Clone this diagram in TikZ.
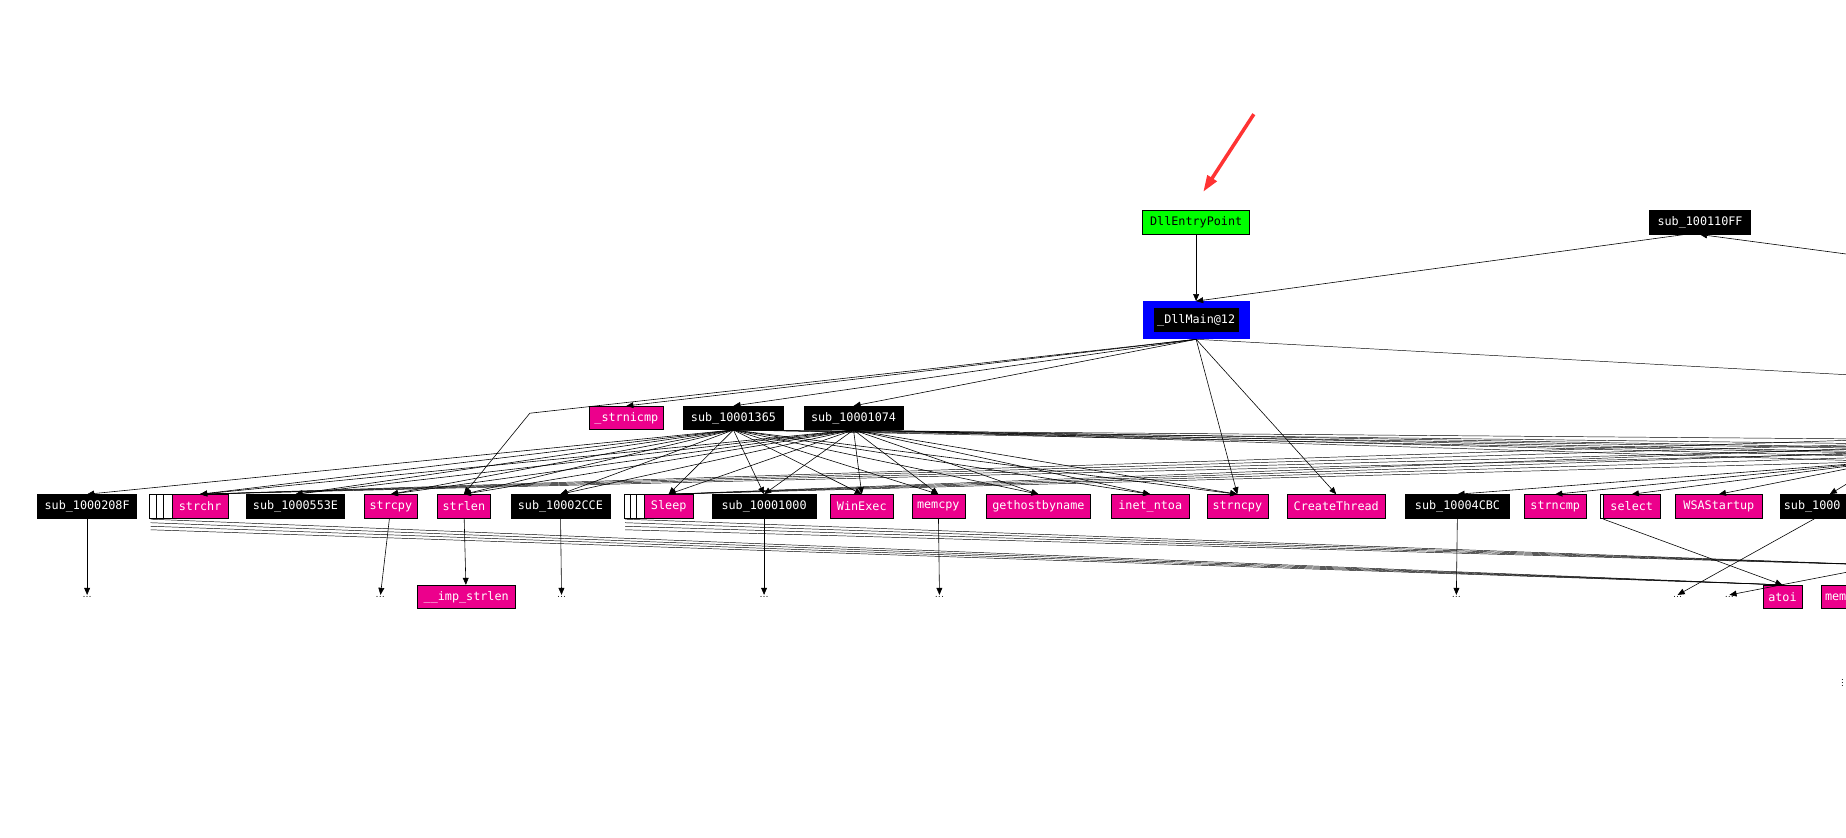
\documentclass[tikz,border=0pt]{standalone}
\usepackage{fontspec}
\setmonofont{DejaVu Sans Mono}
\usetikzlibrary{positioning, shapes, arrows.meta}

\begin{document}
\begin{tikzpicture}[
    x=1pt, y=-1pt,
    box/.style={rectangle, draw, minimum height=20pt, inner xsep=3pt, inner ysep=0pt,
        font=\ttfamily\fontsize{10}{10}\selectfont},
    fnode/.style={box, fill=magenta, text=white},
    subnode/.style={box, fill=black, text=white},
    ghost/.style={rectangle, draw, fill=white, minimum height=20pt, minimum width=20pt},
    dots/.style={font=\small, inner sep=1pt},
    myarrow/.style={-{Triangle[length=6pt, width=5pt]}, line width=0.5pt},
    plain/.style={line width=0.4pt}]

    \useasboundingbox (0,0) rectangle (1568,711);
    \clip (0,0) rectangle (1568,711);

    % top
    \node[box, fill=green, text=black, minimum width=91pt] (entry) at (1016,189) {DllEntryPoint};
    \node[rectangle, fill=blue, minimum width=91pt, minimum height=32pt] (dllmain) at (1016,272) {};
    \node[subnode, draw=none, font=\ttfamily\fontsize{10}{10}\selectfont] (dllmainlbl) at (1016,272) {\_DllMain@12};
    \node[subnode, minimum width=86pt] (sub110ff) at (1444,189) {sub\_100110FF};
    \draw[red!80, line width=3pt, -{Triangle[length=14pt, width=9pt]}] (1065,97) -- (1022,163);

    % second row
    \node[fnode, minimum width=63pt] (strnicmp) at (532,355) {\_strnicmp};
    \node[subnode, minimum width=85pt] (sub1365) at (623,355) {sub\_10001365};
    \node[subnode, minimum width=84pt] (sub1074) at (725,355) {sub\_10001074};

    % third row
    \node[subnode, minimum width=84pt] (sub208f) at (74,430) {sub\_1000208F};
    \foreach \gx in {131,137,143} \node[ghost] at (\gx+6,430) {};
    \node[fnode, minimum width=47pt] (strchr) at (170,430) {strchr};
    \node[subnode, minimum width=83pt] (sub553e) at (251,430) {sub\_1000553E};
    \node[fnode, minimum width=45pt] (strcpy) at (332,430) {strcpy};
    \node[fnode, minimum width=45pt] (strlen) at (394,430) {strlen};
    \node[subnode, minimum width=84pt] (sub2cce) at (476,430) {sub\_10002CCE};
    \foreach \gx in {534,539,544} \node[ghost] at (\gx+6,430) {};
    \node[fnode, minimum width=41pt] (sleep) at (568,430) {Sleep};
    \node[subnode, minimum width=88pt] (sub1000) at (649,430) {sub\_10001000};
    \node[fnode, minimum width=53pt] (winexec) at (732,430) {WinExec};
    \node[fnode, minimum width=45pt] (memcpy) at (797,430) {memcpy};
    \node[fnode, minimum width=88pt] (gethost) at (882,430) {gethostbyname};
    \node[fnode, minimum width=66pt] (inetntoa) at (977,430) {inet\_ntoa};
    \node[fnode, minimum width=52pt] (strncpy) at (1051,430) {strncpy};
    \node[fnode, minimum width=83pt] (createthread) at (1135,430) {CreateThread};
    \node[subnode, minimum width=88pt] (sub4cbc) at (1238,430) {sub\_10004CBC};
    \node[fnode, minimum width=52pt] (strncmp) at (1321,430) {strncmp};
    \node[ghost, minimum width=10pt] at (1364,430) {};
    \node[fnode, minimum width=48pt] (select) at (1386,430) {select};
    \node[fnode, minimum width=74pt] (wsastartup) at (1460,430) {WSAStartup};
    \node[subnode, minimum width=84pt, anchor=west, text width=78pt, align=left] (subcut) at (1512,430) {sub\_1000};

    % fourth row
    \node[dots] (d208f) at (74,507) {...};
    \node[dots] (dstrcpy) at (323,507) {...};
    \node[fnode, minimum width=84pt] (impstrlen) at (396,507) {\_\_imp\_strlen};
    \node[dots] (d2cce) at (477,507) {...};
    \node[dots] (d1000) at (649,507) {...};
    \node[dots] (dmemcpy) at (798,507) {...};
    \node[dots] (d4cbc) at (1237,507) {...};
    \node[dots] (dsel) at (1425,507) {...};
    \node[dots] (dcut) at (1469,507) {...};
    \node[fnode, minimum width=33pt] (atoi) at (1514,507) {atoi};
    \node[fnode, minimum width=40pt, anchor=west, text width=34pt, align=left] (memcut) at (1547,507) {mem};
    \node[dots, rotate=90] (dfar) at (1565,580) {...};

    % off-picture ends
    \coordinate (east1) at (1600,320);
    \coordinate (east2) at (1600,220);
    \coordinate (east3) at (1600,385);
    \coordinate (east4) at (1600,392);
    \coordinate (east5) at (1600,480);
    \coordinate (bend) at (450,351);

    % edges from the top
    \draw[myarrow] (entry) -- (dllmain);
    \draw[myarrow] (sub110ff.south west) ++(30,0) coordinate (s110) (s110) -- (dllmain.north);
    \draw[myarrow] (east2) -- (sub110ff.south);
    \draw[plain] (dllmain.south) -- (east1);
    \draw[myarrow] (dllmain.south) -- (strnicmp.north);
    \draw[myarrow] (dllmain.south) -- (sub1365.north);
    \draw[myarrow] (dllmain.south) -- (sub1074.north);
    \draw[myarrow] (dllmain.south) -- (bend) -- (strlen.north);
    \draw[myarrow] (dllmain.south) -- (strncpy.north);
    \draw[myarrow] (dllmain.south) -- (createthread.north);

    % edges from the second row
    \foreach \t in {sub208f, strchr, sub553e, strcpy, strlen, sub2cce, sleep, sub1000, winexec, memcpy, gethost, inetntoa, strncpy}
        \draw[myarrow] (sub1365.south) -- (\t.north);
    \foreach \t in {strchr, sub553e, strcpy, strlen, sub2cce, sleep, sub1000, winexec, memcpy, gethost, inetntoa, strncpy}
        \draw[myarrow] (sub1074.south) -- (\t.north);
    \foreach \dy in {0,4,8,12} {
        \draw[plain] (sub1365.south) -- ([yshift=\dy]east3);
        \draw[plain] (sub1074.south) -- ([yshift=\dy]east4);
        \draw[plain] (strchr.north) -- ([yshift=\dy]east3);
        \draw[plain] (sleep.north) -- ([yshift=\dy]east4);
    }
    \foreach \t in {sub4cbc, strncmp, select, wsastartup, subcut}
        \draw[myarrow] (east4) -- (\t.north);

    % edges to the fourth row
    \draw[myarrow] (sub208f) -- (d208f);
    \draw[myarrow] (strcpy) -- (dstrcpy);
    \draw[myarrow] (strlen) -- (impstrlen);
    \draw[myarrow] (sub2cce) -- (d2cce);
    \draw[myarrow] (sub1000) -- (d1000);
    \draw[myarrow] (memcpy) -- (dmemcpy);
    \draw[myarrow] (sub4cbc) -- (d4cbc);
    \draw[myarrow] (subcut.south west) ++(30,0) coordinate (sc) (sc) -- (dsel.north);
    \draw[myarrow] (1362,441) -- (atoi.north);
    \draw[myarrow] (east5) -- (dcut.north);
    \foreach \dy in {0,3,6,9} {
        \draw[plain] (128,441+\dy) -- (atoi.north);
        \draw[plain] (531,441+\dy) -- (east5);
    }
\end{tikzpicture}
\end{document}
